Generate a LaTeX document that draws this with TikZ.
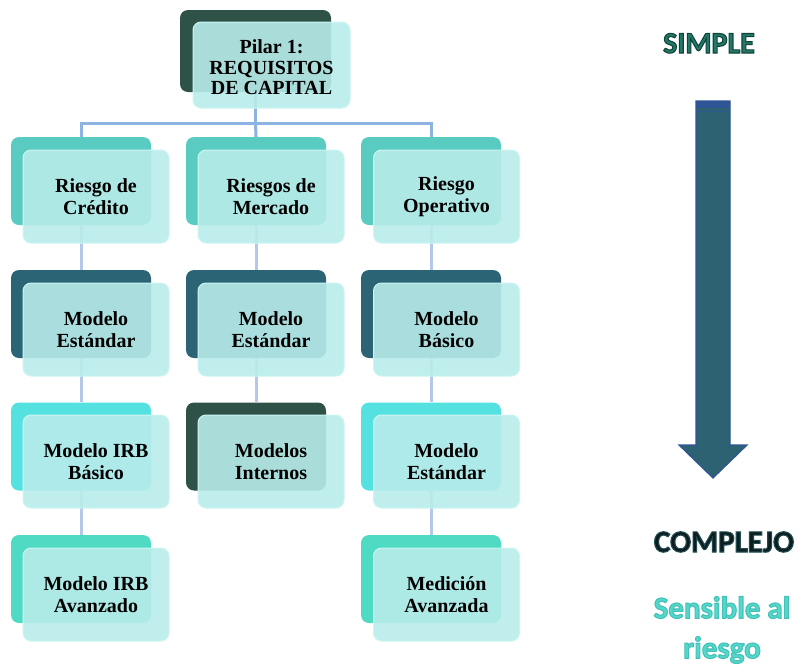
\documentclass[tikz,border=0pt]{standalone}
\usepackage{fontspec}
\setmainfont{Liberation Serif}
\newfontfamily\calfont{Carlito}
\usetikzlibrary{backgrounds}
\definecolor{topc}{HTML}{2E5148}
\definecolor{rowa}{HTML}{5ACBC1}
\definecolor{rowb}{HTML}{2A6475}
\definecolor{rowc}{HTML}{56E1E1}
\definecolor{rowd}{HTML}{4FDBC3}
\definecolor{frontc}{RGB}{184,236,234}
\definecolor{frontline}{HTML}{CDF5F3}
\definecolor{busc}{HTML}{8DB3E2}
\definecolor{linkc}{HTML}{B4C8EA}
\definecolor{simplec}{HTML}{22786A}
\definecolor{complejoc}{HTML}{0E1C1E}
\definecolor{sensc}{HTML}{55D8CB}
\definecolor{arrowc}{HTML}{2C6272}
\definecolor{arrowline}{HTML}{2F5597}
\newcommand{\outl}[2]{\special{pdf:literal direct 2 Tr 1.1 w #1 RG}#2\special{pdf:literal direct 0 Tr}}
\begin{document}
\begin{tikzpicture}[x=1pt,y=-1pt,
  backbox/.style={rounded corners=8pt, minimum width=140pt, minimum height=88pt, inner sep=0pt, fill=#1},
  frontbox/.style={rounded corners=8pt, minimum width=146pt, minimum height=93pt, inner sep=0pt,
    fill=frontc, fill opacity=0.9, text opacity=1, draw=frontline, line width=1pt, align=center,
    font=\fontsize{20}{21.5}\selectfont\bfseries},
  bus/.style={draw=busc, line width=3pt},
  link/.style={draw=linkc, line width=3pt},
  sidetext/.style={font=\calfont\bfseries\fontsize{30}{38}\selectfont}]
\useasboundingbox (0,0) rectangle (798,665);

% top
\node[backbox=topc, minimum width=151pt, minimum height=82pt] (topB) at (255.5,51) {};
\node[frontbox, minimum width=157pt, minimum height=86pt, font=\fontsize{20}{20.5}\selectfont\bfseries] (topF) at (271.5,65) {\rule{0pt}{19pt}Pilar 1:\\REQUISITOS\\DE CAPITAL};
\coordinate (bus) at (255.5,123);

% column 1
\node[backbox=rowa] (b11) at (81,181) {};
\node[frontbox] (f11) at (96,196.5) {Riesgo de\\Crédito};
\node[backbox=rowb] (b21) at (81,314) {};
\node[frontbox] (f21) at (96,329.5) {Modelo\\Estándar};
\node[backbox=rowc] (b31) at (81,446.5) {};
\node[frontbox] (f31) at (96,461.5) {Modelo IRB\\Básico};
\node[backbox=rowd] (b41) at (81,579) {};
\node[frontbox] (f41) at (96,594.5) {Modelo IRB\\Avanzado};

% column 2
\node[backbox=rowa] (b12) at (256,181) {};
\node[frontbox] (f12) at (271,196.5) {Riesgos de\\Mercado};
\node[backbox=rowb] (b22) at (256,314) {};
\node[frontbox] (f22) at (271,329.5) {Modelo\\Estándar};
\node[backbox=topc] (b32) at (256,446.5) {};
\node[frontbox] (f32) at (271,461.5) {Modelos\\Internos};

% column 3
\node[backbox=rowa] (b13) at (431,181) {};
\node[frontbox] (f13) at (446.5,196.5) {Riesgo\\Operativo};
\node[backbox=rowb] (b23) at (431,314) {};
\node[frontbox] (f23) at (446.5,329.5) {Modelo\\Básico};
\node[backbox=rowc] (b33) at (431,446.5) {};
\node[frontbox] (f33) at (446.5,461.5) {Modelo\\Estándar};
\node[backbox=rowd] (b43) at (431,579) {};
\node[frontbox] (f43) at (446.5,594.5) {Medición\\Avanzada};

\begin{scope}[on background layer]
  \draw[bus] (topB.south) -- (bus);
  \draw[bus] (bus) -| (b11.north);
  \draw[bus] (bus) -- (b12.north);
  \draw[bus] (bus) -| (b13.north);
  \draw[link] (b11) -- (b21);
  \draw[link] (b21) -- (b31);
  \draw[link] (b31) -- (b41);
  \draw[link] (b12) -- (b22);
  \draw[link] (b22) -- (b32);
  \draw[link] (b13) -- (b23);
  \draw[link] (b23) -- (b33);
  \draw[link] (b33) -- (b43);
\end{scope}

% right side
\node[sidetext, text=simplec, anchor=base] (simple) at (709,53) {\outl{0.07 0.27 0.22}{SIMPLE}};
\node[sidetext, text=complejoc, anchor=base, font=\calfont\bfseries\fontsize{31}{38}\selectfont] (complejo) at (724,552) {\outl{0.12 0.30 0.32}{COMPLEJO}};
\node[sidetext, text=sensc, align=center, font=\calfont\bfseries\fontsize{31}{40}\selectfont] (sens) at (722,630) {\outl{0.27 0.76 0.72}{Sensible al}\\\outl{0.27 0.76 0.72}{riesgo}};

\filldraw[fill=arrowc, draw=arrowline, line width=1.2pt]
  (696,101) -- (730,101) -- (730,445) -- (747,445) -- (713,478) -- (679,445) -- (696,445) -- cycle;
\fill[arrowline] (696,101) rectangle (730,108);
\draw[arrowline, line width=0.8pt] (696,111) -- (730,111);
\end{tikzpicture}
\end{document}
